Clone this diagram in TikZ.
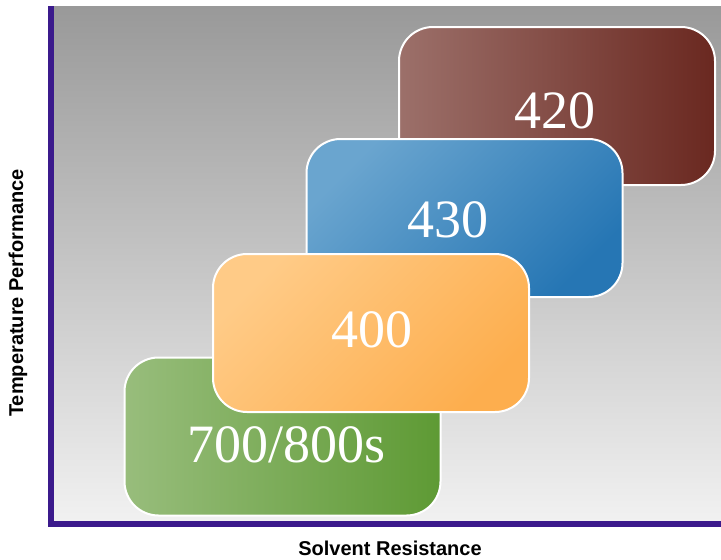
\documentclass[tikz,border=0pt]{standalone}
\usepackage{fontspec}
\setmainfont{Liberation Serif}
\setsansfont{Liberation Sans}
\usepackage{tikz}
\usetikzlibrary{positioning}
\usetikzlibrary{calc}
\usetikzlibrary{backgrounds, fit}

\definecolor{axispurple}{RGB}{59,26,140}
\definecolor{greenL}{RGB}{152,189,124}
\definecolor{greenD}{RGB}{94,154,52}
\definecolor{orangeL}{RGB}{255,203,135}
\definecolor{orangeD}{RGB}{253,174,78}
\definecolor{blueL}{RGB}{106,165,207}
\definecolor{blueD}{RGB}{38,118,180}
\definecolor{brownL}{RGB}{156,112,106}
\definecolor{brownD}{RGB}{106,40,32}

\begin{document}
\begin{tikzpicture}[
    x=1pt, y=-1pt,              % pixel-like grid, y going down
    ]
% -------------------------------------------------
\tikzset{
  tile/.style={draw=white, line width=2pt, rectangle, rounded corners=34pt,
               minimum width=316pt, minimum height=158pt, inner sep=0pt},
  num/.style={anchor=base, text=white, inner sep=0pt,
              font=\fontsize{54}{60}\selectfont},
  axlabel/.style={font=\sffamily\bfseries\fontsize{20}{24}\selectfont, inner sep=0pt},
  axis/.style={draw=axispurple, line width=6pt}
}
% -------------------------------------------------
\useasboundingbox (0,0) rectangle (721,560);

% background of the plot area
\shade[top color={rgb,255:red,153;green,153;blue,153},
       bottom color={rgb,255:red,241;green,241;blue,241}]
  (53,6) rectangle (721,521);

% Placing the boxes
\node [tile, left color=greenL, right color=greenD]   (g7) at (282.5,436.5) {};
\node [tile, left color=brownL, right color=brownD]   (b42) at (557,106) {};
\node [tile, top color=blueL, bottom color=blueD, shading angle=45]     (b43) at (464.5,218) {};
\node [tile, top color=orangeL, bottom color=orangeD, shading angle=45] (o40) at (371,333) {};

\node [num] (t7)  at (286.5,462) {700/800s};
\node [num] (t40) at (372,347)   {400};
\node [num] (t43) at (448,237)   {430};
\node [num] (t42) at (555,128)   {420};

% axes
\coordinate (top) at (51,6);
\coordinate (org) at (51,524);
\coordinate (end) at (721,524);
\draw [axis] (top) -- (org) -- (end);

\node [axlabel, rotate=90] (ylab) at (18,293) {Temperature Performance};
\node [axlabel] (xlab) at (390,548) {Solvent Resistance};

\end{tikzpicture}
\end{document}
